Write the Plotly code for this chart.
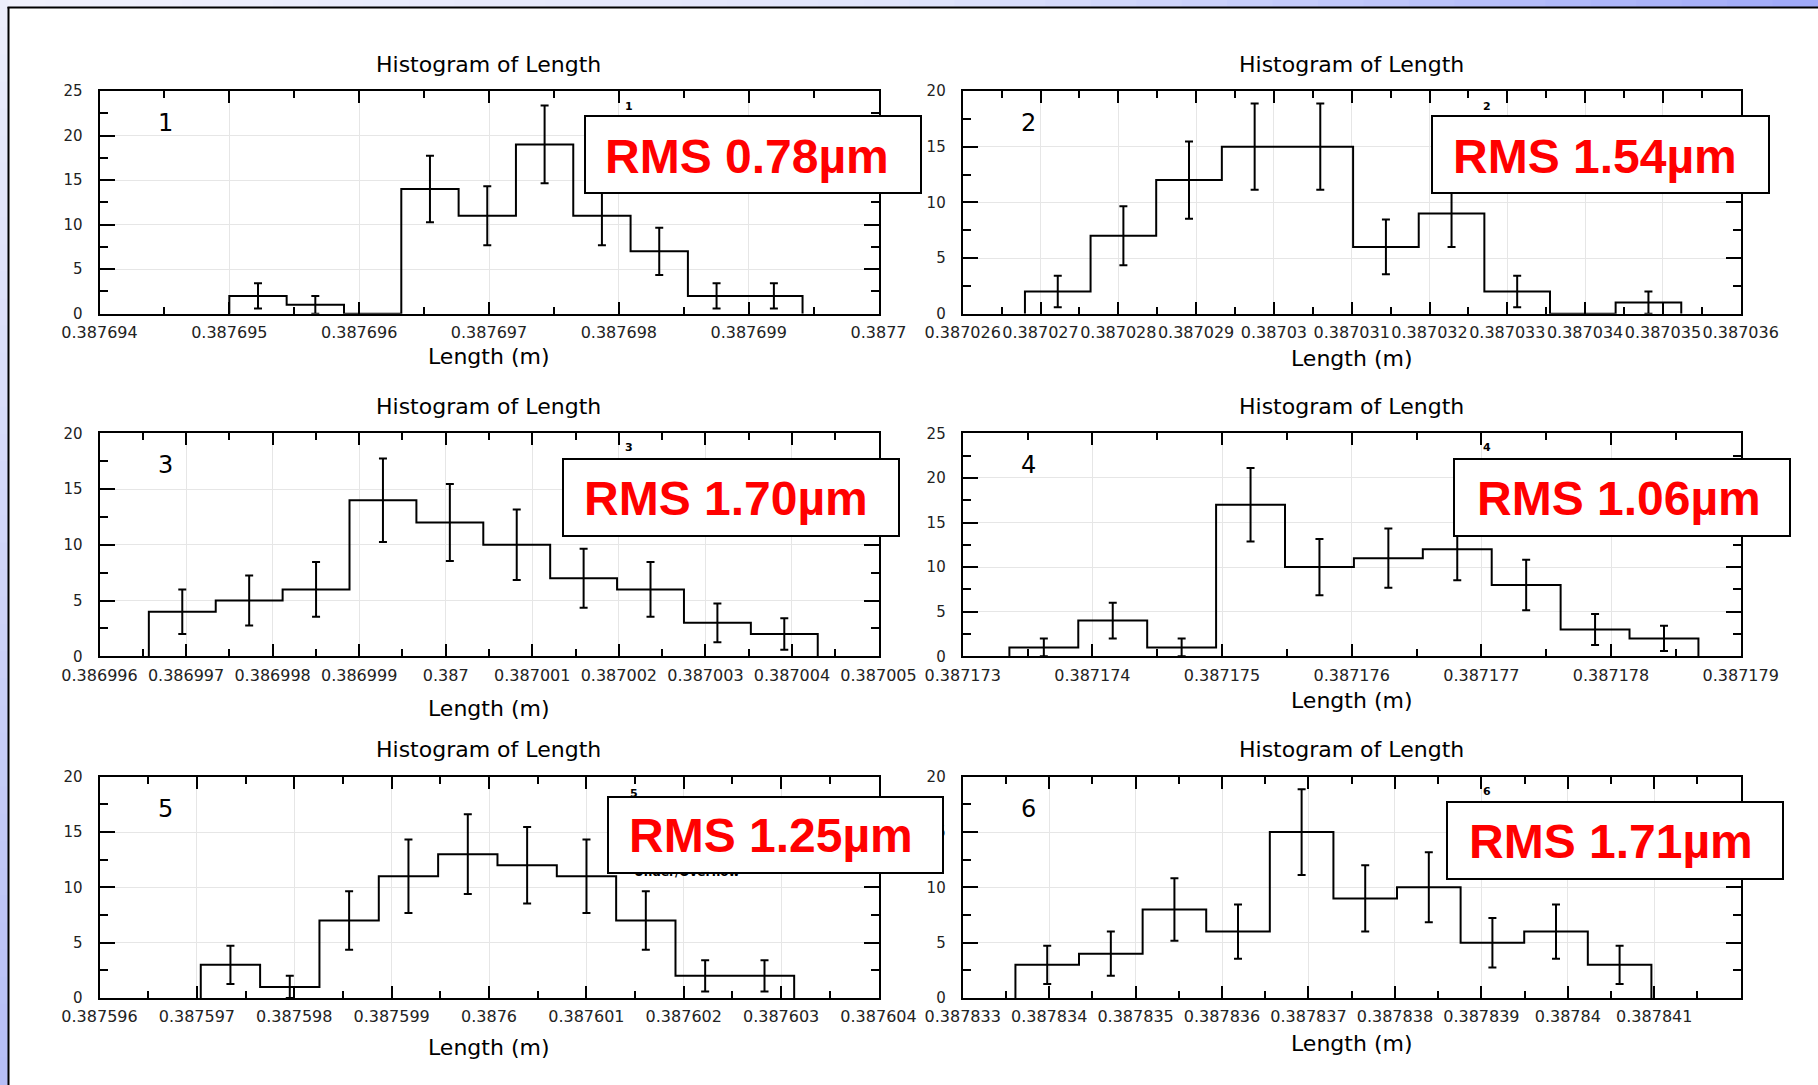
import plotly.graph_objects as go

# ---------------- data ----------------
panel_ids = ["1", "2", "3", "4", "5", "6"]

bin_start_1 = 0.387695
bin_width_1 = 4.415e-7
counts_1 = [2, 1, 0, 14, 11, 19, 11, 7, 2, 2]
xlabels_1 = ["0.387694", "0.387695", "0.387696", "0.387697", "0.387698", "0.387699", "0.3877"]
xrange_1 = [0.387694, 0.3877]
ymax_1 = 25
rms_1 = "RMS 0.78µm"

bin_start_2 = 0.3870268
bin_width_2 = 8.436e-7
counts_2 = [2, 7, 12, 15, 15, 6, 9, 2, 0, 1]
xlabels_2 = ["0.387026", "0.387027", "0.387028", "0.387029", "0.38703", "0.387031",
             "0.387032", "0.387033", "0.387034", "0.387035", "0.387036"]
xrange_2 = [0.387026, 0.387036]
ymax_2 = 20
rms_2 = "RMS 1.54µm"

bin_start_3 = 0.38699657
bin_width_3 = 7.728e-7
counts_3 = [4, 5, 6, 14, 12, 10, 7, 6, 3, 2]
xlabels_3 = ["0.386996", "0.386997", "0.386998", "0.386999", "0.387", "0.387001",
             "0.387002", "0.387003", "0.387004", "0.387005"]
xrange_3 = [0.386996, 0.387005]
ymax_3 = 20
rms_3 = "RMS 1.70µm"

bin_start_4 = 0.38717336
bin_width_4 = 5.314e-7
counts_4 = [1, 4, 1, 17, 10, 11, 12, 8, 3, 2]
xlabels_4 = ["0.387173", "0.387174", "0.387175", "0.387176", "0.387177", "0.387178", "0.387179"]
xrange_4 = [0.387173, 0.387179]
ymax_4 = 25
rms_4 = "RMS 1.06µm"

bin_start_5 = 0.38759704
bin_width_5 = 6.094e-7
counts_5 = [3, 1, 7, 11, 13, 12, 11, 7, 2, 2]
xlabels_5 = ["0.387596", "0.387597", "0.387598", "0.387599", "0.3876", "0.387601",
             "0.387602", "0.387603", "0.387604"]
xrange_5 = [0.387596, 0.387604]
ymax_5 = 20
rms_5 = "RMS 1.25µm"

bin_start_6 = 0.38783361
bin_width_6 = 7.357e-7
counts_6 = [3, 4, 8, 6, 15, 9, 10, 5, 6, 3]
xlabels_6 = ["0.387833", "0.387834", "0.387835", "0.387836", "0.387837", "0.387838",
             "0.387839", "0.38784", "0.387841"]
xrange_6 = [0.387833, 0.387842]
ymax_6 = 20
rms_6 = "RMS 1.71µm"

bin_starts = [bin_start_1, bin_start_2, bin_start_3, bin_start_4, bin_start_5, bin_start_6]
bin_widths = [bin_width_1, bin_width_2, bin_width_3, bin_width_4, bin_width_5, bin_width_6]
counts_all = [counts_1, counts_2, counts_3, counts_4, counts_5, counts_6]
xlabels_all = [xlabels_1, xlabels_2, xlabels_3, xlabels_4, xlabels_5, xlabels_6]
xranges = [xrange_1, xrange_2, xrange_3, xrange_4, xrange_5, xrange_6]
ymaxes = [ymax_1, ymax_2, ymax_3, ymax_4, ymax_5, ymax_6]
rms_texts = [rms_1, rms_2, rms_3, rms_4, rms_5, rms_6]

# ---------------- layout geometry (pixels) ----------------
W, H = 1818, 1085
cols_px = [(99.5, 878.5), (962.7, 1740.7)]
rows_px = [(91, 313.7), (433.3, 656.3), (776.7, 998)]
title_y = [65, 65, 406.7, 406.7, 749, 749]
xtitle_y = [356, 358, 708, 700, 1047, 1043]
box_px = [(584, 115, 922, 194), (1430.5, 115, 1769, 194), (561.6, 458.3, 899.6, 537.3),
          (1453.3, 458, 1791.7, 537), (607.4, 795.7, 944, 874), (1445.7, 801, 1784, 880)]
rms_left = [604.5, 1453.3, 584, 1476.7, 629, 1469]
rms_mid = [156.7, 156.7, 498.3, 498.3, 835, 841]
small_lab = [(629, 107), (1487, 107), (628.5, 448), (1487, 448), (634, 793), (1487, 791)]


def px(x):
    return x / W


def py(y):
    return 1 - y / H


TEXT_FONT = "DejaVu Sans"

fig = go.Figure()
layout = dict(
    width=W, height=H,
    margin=dict(l=0, r=0, t=0, b=0, pad=0, autoexpand=False),
    paper_bgcolor="white", plot_bgcolor="white",
    showlegend=False,
)
annotations = []
shapes = []

for i in range(6):
    r, c = divmod(i, 2)
    x0p, x1p = cols_px[c]
    y0p, y1p = rows_px[r]
    ax = "" if i == 0 else str(i + 1)
    xa, ya = "x" + ax, "y" + ax

    start, width, counts = bin_starts[i], bin_widths[i], counts_all[i]
    edges = [start + k * width for k in range(len(counts) + 1)]
    centers = [start + (k + 0.5) * width for k in range(len(counts))]

    # histogram outline
    fig.add_trace(go.Scatter(
        x=[edges[0]] + edges, y=[0] + counts + [0],
        mode="lines", line=dict(color="black", width=2, shape="hv"),
        xaxis=xa, yaxis=ya, hoverinfo="skip"))
    # sqrt(N) error bars at non-empty bins
    ex = [cx for cx, n in zip(centers, counts) if n > 0]
    ey = [n for n in counts if n > 0]
    fig.add_trace(go.Scatter(
        x=ex, y=ey, mode="markers",
        marker=dict(size=1, color="rgba(0,0,0,0)"),
        error_y=dict(type="sqrt", color="black", thickness=2, width=4),
        xaxis=xa, yaxis=ya, hoverinfo="skip"))

    labels = xlabels_all[i]
    layout["xaxis" + ax] = dict(
        domain=[px(x0p), px(x1p)], anchor=ya, range=xranges[i], automargin=False,
        tickmode="array", tickvals=[float(s) for s in labels], ticktext=labels,
        ticks="inside", ticklen=12, tickwidth=2, tickcolor="black",
        showline=True, linewidth=2, linecolor="black", mirror="allticks",
        showgrid=True, gridcolor="#e6e6e6", gridwidth=1, zeroline=False,
        tickangle=0, ticklabelstandoff=3,
        tickfont=dict(family=TEXT_FONT, size=16, color="#222"),
        minor=dict(tick0=xranges[i][0], dtick=5e-7, ticks="inside", ticklen=7,
                   tickwidth=2, tickcolor="black", showgrid=False),
        fixedrange=True,
    )
    layout["yaxis" + ax] = dict(
        domain=[py(y1p), py(y0p)], anchor=xa, range=[0, ymaxes[i]], automargin=False,
        tickmode="linear", tick0=0, dtick=5,
        ticks="inside", ticklen=15, tickwidth=2, tickcolor="black",
        showline=True, linewidth=2, linecolor="black", mirror="allticks",
        showgrid=True, gridcolor="#e6e6e6", gridwidth=1, zeroline=False,
        ticklabelstandoff=12,
        tickfont=dict(family=TEXT_FONT, size=15, color="#222"),
        minor=dict(dtick=2.5, ticks="inside", ticklen=8, tickwidth=2,
                   tickcolor="black", showgrid=False),
        fixedrange=True,
    )

    xc = px((x0p + x1p) / 2)
    annotations.append(dict(text="Histogram of Length", x=xc, y=py(title_y[i]),
                            xref="paper", yref="paper", showarrow=False,
                            xanchor="center", yanchor="middle",
                            font=dict(family=TEXT_FONT, size=22, color="black")))
    annotations.append(dict(text="Length (m)", x=xc, y=py(xtitle_y[i]),
                            xref="paper", yref="paper", showarrow=False,
                            xanchor="center", yanchor="middle",
                            font=dict(family=TEXT_FONT, size=22, color="black")))
    annotations.append(dict(text=panel_ids[i], x=px(x0p + 66), y=py(y0p + 32),
                            xref="paper", yref="paper", showarrow=False,
                            xanchor="center", yanchor="middle",
                            font=dict(family=TEXT_FONT, size=24, color="black")))
    sx, sy = small_lab[i]
    annotations.append(dict(text="<b>" + panel_ids[i] + "</b>", x=px(sx), y=py(sy),
                            xref="paper", yref="paper", showarrow=False,
                            xanchor="center", yanchor="middle",
                            font=dict(family=TEXT_FONT, size=11, color="black")))

# partially hidden stat-box line in panel 5
annotations.append(dict(text="<b>Under/Overflow</b>", x=px(632), y=py(872),
                        xref="paper", yref="paper", showarrow=False,
                        xanchor="left", yanchor="middle",
                        font=dict(family=TEXT_FONT, size=12, color="black")))

# RMS boxes (drawn after the labels so they cover them)
for i in range(6):
    l, t, rr, b = box_px[i]
    annotations.append(dict(text=" ", x=px(l), y=py(t), xref="paper", yref="paper",
                            showarrow=False, xanchor="left", yanchor="top",
                            width=rr - l - 4, height=b - t - 4, borderpad=0,
                            bgcolor="white", bordercolor="black", borderwidth=2))
for i in range(6):
    annotations.append(dict(text="<b>" + rms_texts[i] + "</b>", x=px(rms_left[i] - 2),
                            y=py(rms_mid[i]), xref="paper", yref="paper",
                            showarrow=False, xanchor="left", yanchor="middle",
                            font=dict(family="Liberation Sans, Arial", size=48,
                                      color="#ff0000")))

# page frame: lavender strips + black border
NSEG = 40


def lerp(c0, c1, f):
    return tuple(int(round(a + (b_ - a) * f)) for a, b_ in zip(c0, c1))


top_cols = [(240, 241, 252), (224, 228, 251), (160, 170, 248)]
for k in range(NSEG):
    f = k / (NSEG - 1)
    col = lerp(top_cols[0], top_cols[1], f * 2) if f < 0.5 else lerp(top_cols[1], top_cols[2], (f - 0.5) * 2)
    shapes.append(dict(type="rect", xref="paper", yref="paper", layer="below",
                       x0=px(W * k / NSEG), x1=px(W * (k + 1) / NSEG + 1),
                       y0=py(7.5), y1=1, line=dict(width=0),
                       fillcolor="rgb(%d,%d,%d)" % col))
left_cols = [(236, 238, 251), (182, 190, 246)]
for k in range(NSEG):
    f = k / (NSEG - 1)
    col = lerp(left_cols[0], left_cols[1], f)
    shapes.append(dict(type="rect", xref="paper", yref="paper", layer="below",
                       x0=0, x1=px(8.3), y0=py(H * (k + 1) / NSEG + 1), y1=py(H * k / NSEG),
                       line=dict(width=0), fillcolor="rgb(%d,%d,%d)" % col))
shapes.append(dict(type="line", xref="paper", yref="paper", layer="below",
                   x0=px(7.5), x1=1, y0=py(7.5), y1=py(7.5),
                   line=dict(color="black", width=2)))
shapes.append(dict(type="line", xref="paper", yref="paper", layer="below",
                   x0=px(8.5), x1=px(8.5), y0=py(7), y1=0,
                   line=dict(color="black", width=2)))

layout["annotations"] = annotations
layout["shapes"] = shapes
fig.update_layout(**layout)

fig.write_html("out.html", config={"displayModeBar": False},
               post_script="document.body.style.margin='0';document.body.style.overflow='hidden';")
